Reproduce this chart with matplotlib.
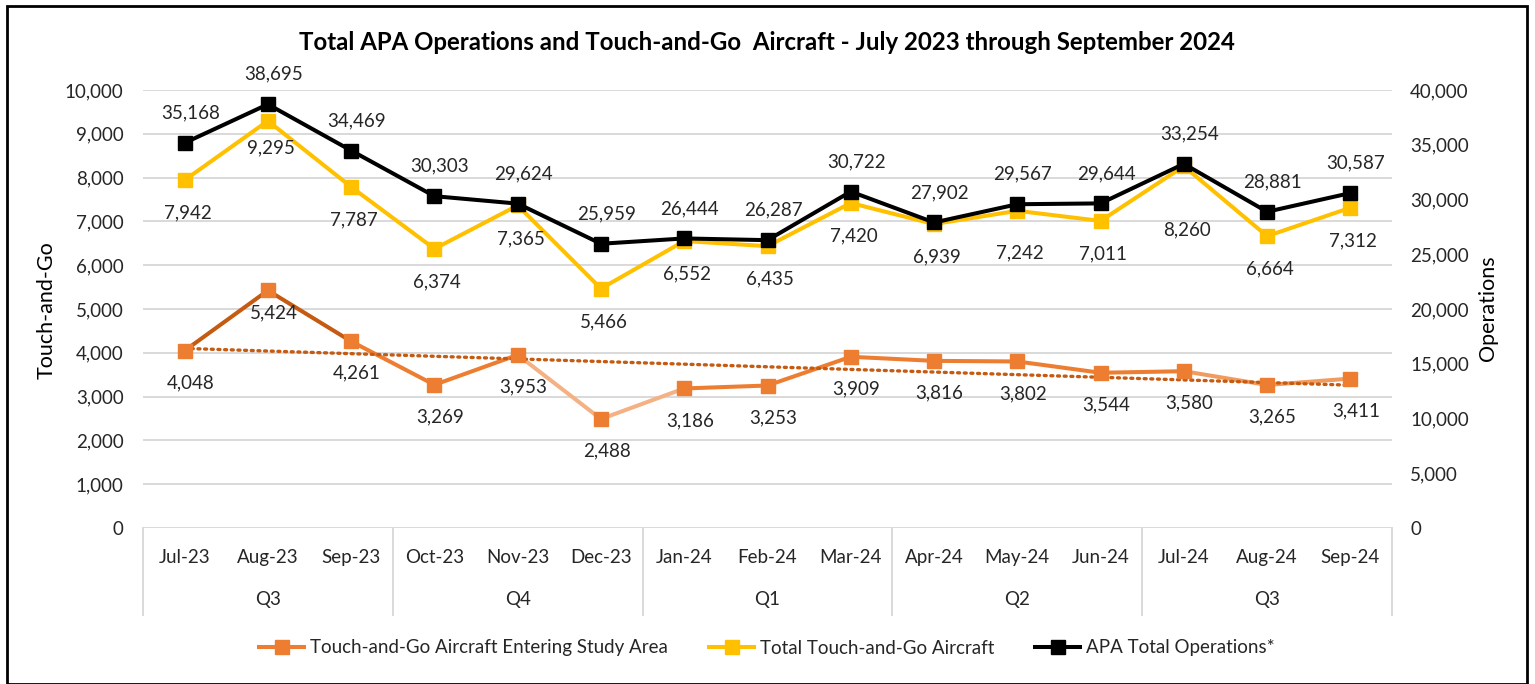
import matplotlib.pyplot as plt
import numpy as np
from matplotlib.lines import Line2D
from matplotlib.patches import Rectangle
from matplotlib.ticker import FuncFormatter

plt.rcParams['font.family'] = ['Lato', 'DejaVu Sans']

months = ['Jul-23', 'Aug-23', 'Sep-23', 'Oct-23', 'Nov-23', 'Dec-23', 'Jan-24', 'Feb-24',
          'Mar-24', 'Apr-24', 'May-24', 'Jun-24', 'Jul-24', 'Aug-24', 'Sep-24']
quarters = ['Q3', 'Q4', 'Q1', 'Q2', 'Q3']

entering = [4048, 5424, 4261, 3269, 3953, 2488, 3186, 3253, 3909, 3816, 3802, 3544, 3580, 3265, 3411]
total_tg = [7942, 9295, 7787, 6374, 7365, 5466, 6552, 6435, 7420, 6939, 7242, 7011, 8260, 6664, 7312]
apa_ops = [35168, 38695, 34469, 30303, 29624, 25959, 26444, 26287, 30722, 27902, 29567, 29644, 33254,
           28881, 30587]

ORANGE = '#ED7D31'
DARK_OR = '#C55A11'
LIGHT_OR = '#F4B183'
SOFT_OR = '#F29B5E'
YELLOW = '#FFC000'
TXT = '#262626'
FS = 13.5

# colour of each segment of the orange line (Excel per-point formatting)
seg_colors = [DARK_OR, DARK_OR, ORANGE, ORANGE, LIGHT_OR, LIGHT_OR, ORANGE, ORANGE,
              ORANGE, ORANGE, ORANGE, ORANGE, SOFT_OR, SOFT_OR]

fig = plt.figure(figsize=(15.35, 6.84), dpi=100)
ax = fig.add_axes([143 / 1535, 1 - 528 / 684, 1249 / 1535, 438 / 684])
ax2 = ax.twinx()

x = np.arange(len(months))
lw, ms = 2.9, 9.4
px = 0.72  # points per pixel

# trend line for the entering series
coef = np.polyfit(x, entering, 1)
ax.plot(x, np.polyval(coef, x), color=DARK_OR, lw=2.4, ls=(0, (0.6, 1.4)), zorder=4,
        dash_capstyle='round')

for i in range(len(x) - 1):
    ax.plot(x[i:i + 2], entering[i:i + 2], color=seg_colors[i], lw=lw, zorder=3,
            solid_capstyle='round')
ax.plot(x, entering, ls='none', marker='s', ms=ms, color=ORANGE, zorder=5)
ax.plot(x, total_tg, color=YELLOW, lw=lw, marker='s', ms=ms, zorder=6)
ax2.plot(x, apa_ops, color='black', lw=lw, marker='s', ms=ms, zorder=6)

# data labels (pixel offsets)
or_off = {1: 22}
ye_off = {1: 27, 10: 42, 12: 64}
for i in x:
    ax.annotate(f'{entering[i]:,}', (i, entering[i]), xytext=(4, -or_off.get(i, 32) * px),
                textcoords='offset points', ha='center', va='center', fontsize=FS,
                color=TXT, annotation_clip=False, zorder=10)
    ax.annotate(f'{total_tg[i]:,}', (i, total_tg[i]), xytext=(2, -ye_off.get(i, 33) * px),
                textcoords='offset points', ha='center', va='center', fontsize=FS,
                color=TXT, annotation_clip=False, zorder=10)
    ax2.annotate(f'{apa_ops[i]:,}', (i, apa_ops[i]), xytext=(4, 30 * px),
                 textcoords='offset points', ha='center', va='center', fontsize=FS,
                 color=TXT, annotation_clip=False, zorder=10)

ax.set_xlim(-0.5, len(months) - 0.5)
ax.set_ylim(0, 10000)
ax2.set_ylim(0, 40000)
ax.set_yticks(np.arange(0, 10001, 1000))
ax2.set_yticks(np.arange(0, 40001, 5000))
fmt = FuncFormatter(lambda v, p: f'{int(v):,}')
ax.yaxis.set_major_formatter(fmt)
ax2.yaxis.set_major_formatter(fmt)
ax.tick_params(axis='y', length=0, pad=14, labelsize=FS, labelcolor=TXT)
ax2.tick_params(axis='y', length=0, pad=13, labelsize=FS, labelcolor=TXT)
ax.set_xticks(x, months)
ax.tick_params(axis='x', length=0, pad=15, labelsize=FS, labelcolor=TXT)
ax.grid(axis='y', color='#D9D9D9', lw=1.4)
ax.set_axisbelow(True)
for a in (ax, ax2):
    for s in a.spines.values():
        s.set_visible(False)

# quarter level of the category axis
for k, q in enumerate(quarters):
    ax.annotate(q, (3 * k + 1, 0), xycoords=('data', 'axes fraction'), xytext=(0, -72 * px),
                textcoords='offset points', ha='center', va='center', fontsize=FS,
                color=TXT)
for k in range(len(quarters) + 1):
    ax.plot([3 * k - 0.5] * 2, [0, -87 / 438], color='#D9D9D9', lw=1.4,
            transform=ax.get_xaxis_transform(), clip_on=False)

fig.text(47 / 1535, 1 - 310 / 684, 'Touch-and-Go', rotation=90, ha='center', va='center',
         fontsize=15.5, color='black')
fig.text(1488 / 1535, 1 - 308 / 684, 'Operations', rotation=90, ha='center', va='center',
         fontsize=15.5, color='black')

fig.text(767 / 1535, 1 - 42 / 684,
         'Total APA Operations and Touch-and-Go  Aircraft - July 2023 through September 2024',
         ha='center', va='center', fontsize=17.3, fontweight='bold', color='black')

handles = [Line2D([], [], color=ORANGE, lw=lw, marker='s', ms=ms),
           Line2D([], [], color=YELLOW, lw=lw, marker='s', ms=ms),
           Line2D([], [], color='black', lw=lw, marker='s', ms=ms)]
labels = ['Touch-and-Go Aircraft Entering Study Area', 'Total Touch-and-Go Aircraft',
          'APA Total Operations*']
fig.legend(handles, labels, loc='center', bbox_to_anchor=(767 / 1535, 1 - 648 / 684), ncol=3,
           frameon=False, fontsize=FS, handlelength=2.4, handletextpad=0.3,
           columnspacing=2.2, labelcolor=TXT)

fig.patches.append(Rectangle((7 / 1535, 0), 1520 / 1535, 1 - 6 / 684, transform=fig.transFigure,
                             fill=False, edgecolor='black', lw=2))

fig.savefig('out.png', dpi=100)
